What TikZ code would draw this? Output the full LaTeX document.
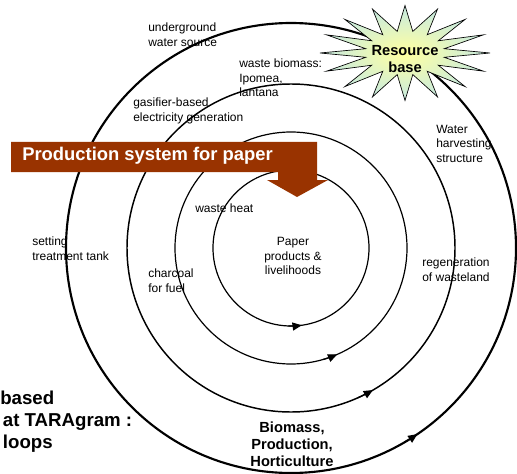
\documentclass[tikz,border=0pt]{standalone}
\usepackage{fontspec}
\setmainfont{Liberation Sans}
\usetikzlibrary{arrows.meta}
\definecolor{paperbrown}{RGB}{153,51,0}
\definecolor{burstin}{RGB}{255,255,160}
\definecolor{burstout}{RGB}{198,234,226}

\begin{document}
\begin{tikzpicture}[x=0.75pt,y=0.75pt,yscale=-1,xscale=1,
  ring/.style={line width=0.9pt},
  flowtip/.style={-{Triangle[length=7pt,width=6pt]},line width=0.9pt},
  lbl/.style={anchor=north west,inner sep=0pt,align=left,font=\fontsize{9}{10.8}\selectfont},
  heavy/.style={inner sep=0pt,align=center,font=\fontsize{11}{12.8}\selectfont\bfseries}]
\useasboundingbox (0,0) rectangle (517,474);

%Shape: Circles (loops)
\coordinate (c) at (291,248);
\draw [ring] (c) circle (78);
\draw [ring] (c) circle (116);
\draw [ring,line width=1.1pt] (c) circle (164);
\draw [ring,line width=1.6pt] (c) circle (225);

%Arrow heads on the loops
\draw [flowtip] (c) ++(92:78) arc (92:82:78);
\draw [flowtip] (c) ++(74:116) arc (74:66.5:116);
\draw [flowtip] (c) ++(66:164) arc (66:60:164);
\draw [flowtip] (c) ++(60:225) arc (60:55.8:225);

% Text Node
\node [lbl] (under) at (148,23) {underground\\water source};
% Text Node
\node [lbl] (biomass) at (239,59) {waste biomass:\\Ipomea,\\lantana};
% Text Node
\node [lbl] (gasifier) at (133,98) {gasifier-based\\electricity generation};
% Text Node
\node [lbl] (harvest) at (436,125) {Water\\harvesting\\structure};
% Text Node
\node [lbl] (heat) at (195,204) {waste heat};
% Text Node
\node [lbl] (tank) at (32,237) {setting\\treatment tank};
% Text Node
\node [lbl] (charcoal) at (148,269) {charcoal\\for fuel};
% Text Node
\node [lbl] (regen) at (422,258) {regeneration\\of wasteland};
% Text Node
\node [lbl,anchor=center,align=center] (paper) at (293,256) {Paper\\products \&\\livelihoods};
% Text Node
\node [heavy] (bph) at (292,444) {Biomass,\\Production,\\Horticulture};
% Text Node
\node [anchor=north west,inner sep=0pt,align=left,font=\fontsize{14}{16.5}\selectfont\bfseries] (based) at (0,391) {based\\\hspace{2pt}at TARAgram :\\\hspace{2pt}loops};

%Shape: Star (resource base)
\draw [inner color=burstin,outer color=burstout,line width=0.5pt,shift={(405,53)}] (90:85 and 47.5)
  \foreach \k in {0,...,15} { -- ({101.25+22.5*\k}:40 and 22) -- ({112.5+22.5*\k}:85 and 47.5) } -- cycle;
\node [heavy] (resource) at (405,59) {Resource\\base};

%Shape: Banner with down arrow
\fill [paperbrown] (11,142) -- (317,142) -- (317,180) -- (328,180) -- (297,197) -- (267,180) -- (278,180) -- (278,172) -- (11,172) -- cycle;
\node [anchor=west,inner sep=0pt,text=white,font=\fontsize{13.8}{16}\selectfont\bfseries] (title) at (22,156) {Production system for paper};

\end{tikzpicture}
\end{document}
